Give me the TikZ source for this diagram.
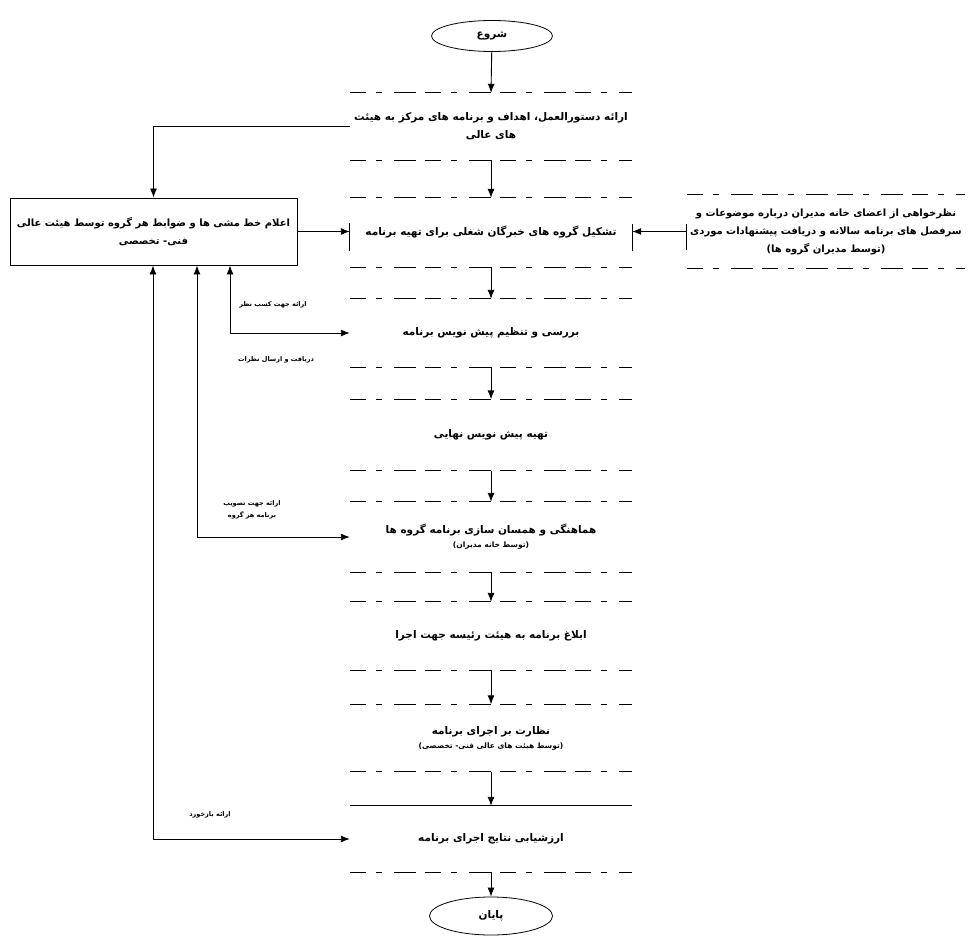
\documentclass[tikz,border=0pt]{standalone}
\usepackage{fontspec}
\TeXXeTstate=1
\newfontfamily\arfont[Script=Arabic]{DejaVu Sans}
\newcommand{\artx}[1]{\beginR #1\endR}
\usetikzlibrary{arrows.meta,shapes.geometric}
\begin{document}
\begin{tikzpicture}[x=1pt,y=-1pt,
  every node/.style={font=\arfont\bfseries\fontsize{10.5}{18}\selectfont, align=center, inner sep=0pt},
  lbl/.style={font=\arfont\bfseries\fontsize{6.5}{12}\selectfont},
  side/.style={font=\arfont\bfseries\fontsize{10}{18}\selectfont},
  stepbox/.style={minimum width=282pt},
  term/.style={ellipse, draw, line width=0.8pt},
  arr/.style={-{Latex[length=9pt,width=7pt]}, line width=0.9pt},
  darr/.style={{Latex[length=9pt,width=7pt]}-{Latex[length=9pt,width=7pt]}, line width=0.9pt},
  brk/.style={line width=0.8pt, dash pattern=on 16pt off 10pt on 6pt off 12pt on 22pt off 9pt},
  bar/.style={line width=0.9pt}]
\useasboundingbox (0,0) rectangle (972,944);

% terminals
\node[term, minimum width=121pt, minimum height=31pt] (start) at (492,36) {\artx{شروع}};
\node[term, minimum width=123pt, minimum height=38pt] (end) at (491,916) {\artx{پایان}};

% central steps
\node[stepbox, minimum height=67pt] (b1) at (491,126.5) {\artx{ارائه دستورالعمل، اهداف و برنامه های مرکز به هیئت}\\\artx{های عالی}};
\node[stepbox, minimum height=69pt] (b2) at (491,232.5) {\artx{تشکیل گروه های خبرگان شغلی برای تهیه برنامه}};
\node[stepbox, minimum height=68pt] (b3) at (491,333) {\artx{بررسی و تنظیم پیش نویس برنامه}};
\node[stepbox, minimum height=71pt] (b4) at (491,435) {\artx{تهیه پیش نویس نهایی}};
\node[stepbox, minimum height=70pt] (b5) at (491,537) {\artx{هماهنگی و همسان سازی برنامه گروه ها}\\[-4pt]{\fontsize{7.5}{9}\selectfont\artx{(توسط خانه مدیران)}}};
\node[stepbox, minimum height=68pt] (b6) at (491,636) {\artx{ابلاغ برنامه به هیئت رئیسه جهت اجرا}};
\node[stepbox, minimum height=67pt] (b7) at (491,738) {\artx{نظارت بر اجرای برنامه}\\[-4pt]{\fontsize{7.5}{9}\selectfont\artx{(توسط هیئت های عالی فنی- تخصصی)}}};
\node[stepbox, minimum height=66pt] (b8) at (491,839) {\artx{ارزشیابی نتایج اجرای برنامه}};

% broken edges of the central steps
\foreach \b in {b1,b2,b3,b4,b5,b6,b7}{
  \draw[brk] (\b.north west) -- (\b.north east);
  \draw[brk] (\b.south west) -- (\b.south east);
}
\draw[bar] (b8.north west) -- (b8.north east);
\draw[brk] (b8.south west) -- (b8.south east);
\draw[bar] ([yshift=-19pt]b2.west) -- ([yshift=9pt]b2.west);
\draw[bar] ([yshift=-19pt]b2.east) -- ([yshift=8pt]b2.east);

% left box
\node[side, draw, line width=0.9pt, minimum width=287pt, minimum height=67pt] (L) at (153.5,231.5)
  {\artx{اعلام خط مشی ها و ضوابط هر گروه توسط هیئت عالی}\\\artx{فنی- تخصصی}};

% right box
\node[side, minimum width=278pt, minimum height=73pt] (R) at (826,231.5)
  {\artx{نظرخواهی از اعضای خانه مدیران درباره موضوعات و}\\\artx{سرفصل های برنامه سالانه و دریافت پیشنهادات موردی}\\\artx{(توسط مدیران گروه ها)}};
\draw[brk] (R.north west) -- (R.north east);
\draw[brk] (R.south west) -- (R.south east);
\draw[bar] ([yshift=-19pt]R.west) -- ([yshift=7pt]R.west);

% main flow
\draw[arr] (start) -- (b1.north);
\draw[arr] (b1) -- (b2.north);
\draw[arr] (b2) -- (b3.north);
\draw[arr] (b3) -- (b4.north);
\draw[arr] (b4) -- (b5.north);
\draw[arr] (b5) -- (b6.north);
\draw[arr] (b6) -- (b7.north);
\draw[arr] (b7) -- (b8.north);
\draw[arr] (b8) -- (end);

% side connections
\draw[arr] (b1.west) -| (L.north);
\draw[arr] (L.east) -- (L.east -| b2.west);
\draw[arr] (R.west) -- (R.west -| b2.east);

% feedback loops
\coordinate (f1) at (230,0);
\coordinate (f2) at (197,0);
\coordinate (f3) at (153,0);
\draw[darr] (f1 |- L.south) |- (b3.west);
\draw[darr] (f2 |- L.south) |- (b5.west);
\draw[darr] (f3 |- L.south) |- (b8.west);

% labels
\node[lbl] (l1) at (273,305) {\artx{ارائه جهت کسب نظر}};
\node[lbl] (l2) at (276,360) {\artx{دریافت و ارسال نظرات}};
\node[lbl] (l3) at (252,510) {\artx{ارائه جهت تصویب}\\\artx{برنامه هر گروه}};
\node[lbl] (l4) at (210,815) {\artx{ارائه بازخورد}};
\end{tikzpicture}
\end{document}
